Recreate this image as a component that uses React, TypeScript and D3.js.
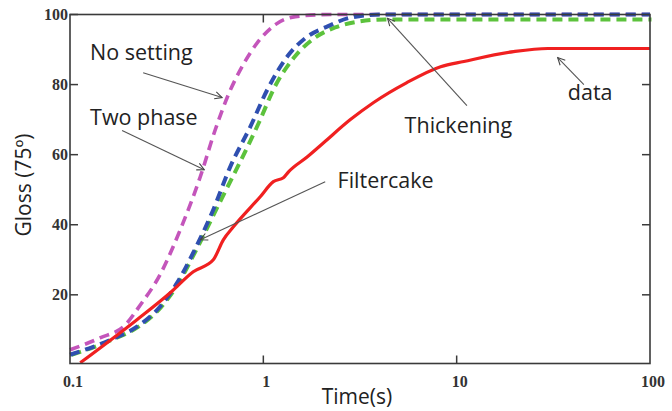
import React from "react";
import * as d3 from "d3";

// ---- data (time in s, gloss in GU) ----
const dataT = [0.113, 0.222, 0.33, 0.434, 0.551, 0.621, 0.7, 0.964, 1.127, 1.27, 1.35, 1.69, 2.05, 2.82, 3.72, 5.5, 8.26, 10.9, 19.7, 29.6, 100];
const dataV = [0.6, 12.9, 20.6, 26.6, 30, 35.7, 39.4, 48, 52.3, 53.4, 55.1, 59.4, 63.4, 70, 74.9, 80.5, 85.1, 86.6, 89.4, 90.3, 90.3];

const noSetT = [0.1, 0.143, 0.193, 0.231, 0.292, 0.372, 0.472, 0.564, 0.659, 0.787, 0.942, 1.153, 1.466, 2.22, 100];
const noSetV = [4.3, 7.7, 11.4, 17.1, 25.7, 38.6, 53.7, 67.1, 77.1, 85.7, 92.3, 97.1, 99.4, 100, 100];

const twoPhaseT = [0.1, 0.161, 0.222, 0.292, 0.358, 0.434, 0.551, 0.675, 0.857, 1.05, 1.33, 1.69, 2.15, 2.82, 4.04, 100];
const twoPhaseV = [2.9, 7.1, 10.9, 16.6, 23.4, 32, 44.3, 56.6, 68, 78.6, 88, 93.7, 96.6, 99.1, 100, 100];

const thickT = [0.1, 0.161, 0.222, 0.292, 0.358, 0.434, 0.56, 0.931, 1.127, 1.43, 1.82, 2.31, 3.07, 4.19, 100];
const thickV = [2.9, 7.1, 10.9, 16.6, 23.4, 32, 44.3, 69.1, 79.4, 88, 93.4, 96.3, 98, 98.6, 98.6];

const xTicks = [0.1, 1, 10, 100];
const xTickLabels = ["0.1", "1", "10", "100"];
const yTicks = [20, 40, 60, 80, 100];

// annotations: label, text anchor (t, v), arrow from (t, v) to (t, v)
const annLabels = ["No setting", "Two phase", "Filtercake", "Thickening", "data"];
const annText = [[0.127, 86.9], [0.127, 68.6], [2.42, 50.6], [5.38, 66.3], [37.6, 75.7]];
const annFrom = [[0.239, 83.4], [0.186, 66.9], [2.09, 52.3], [11.3, 74], [45.5, 80]];
const annTo = [[0.612, 76.3], [0.495, 55.7], [0.472, 35.7], [4.39, 98.9], [33.3, 87.7]];

export default function App() {
  const W = 672, H = 411;
  const x = d3.scaleLog().domain([0.1, 100]).range([70, 650]);
  const y = d3.scaleLinear().domain([0.4, 100]).range([363.5, 14.5]);
  const x0 = x(0.1), x1 = x(100), yTop = y(100), yBot = y(0.4);

  const line = d3
    .line<[number, number]>()
    .x((d) => x(d[0]))
    .y((d) => y(d[1]))
    .curve(d3.curveMonotoneX);
  const zip = (a: number[], b: number[]) => a.map((t, i) => [t, b[i]] as [number, number]);

  const axisColor = "#3a3a3a";
  const serif = "'Liberation Serif', 'DejaVu Serif', serif";
  const sans = "'Open Sans', Lato, sans-serif";
  const tickLen = 8;

  return (
    <svg width={W} height={H} style={{ position: "absolute", left: 0, top: 0, background: "#fff" }}>
      <defs>
        <marker id="arr" viewBox="0 0 10 10" refX="9" refY="5" markerWidth="9" markerHeight="9" orient="auto" markerUnits="userSpaceOnUse">
          <path d="M1,1 L9,5 L1,9" fill="none" stroke="#444" strokeWidth={1.2} />
        </marker>
      </defs>

      {/* series */}
      <path d={line(zip(noSetT, noSetV)) || ""} fill="none" stroke="#c455bb" strokeWidth={3.6} strokeDasharray="10 6" />
      <path d={line(zip(thickT, thickV)) || ""} fill="none" stroke="#5cc23c" strokeWidth={4} strokeDasharray="10 6" transform="translate(1.5,0)" />
      <path d={line(zip(twoPhaseT, twoPhaseV)) || ""} fill="none" stroke="#2f4fb0" strokeWidth={4} strokeDasharray="10 6" />
      <path d={line(zip(dataT, dataV)) || ""} fill="none" stroke="#f02020" strokeWidth={3.2} />

      {/* box */}
      <rect x={x0} y={yTop} width={x1 - x0} height={yBot - yTop} fill="none" stroke={axisColor} strokeWidth={1.6} />

      {/* y ticks */}
      {yTicks.map((v) => (
        <g key={"y" + v}>
          <line x1={x0} x2={x0 + tickLen} y1={y(v)} y2={y(v)} stroke={axisColor} strokeWidth={1.5} />
          {v < 100 && <line x1={x1} x2={x1 - tickLen} y1={y(v)} y2={y(v)} stroke={axisColor} strokeWidth={1.5} />}
          <text x={x0 - 2} y={y(v) + 5} textAnchor="end" fontFamily={serif} fontSize={16} fontWeight="bold" fill="#333">
            {v}
          </text>
        </g>
      ))}

      {/* x ticks */}
      {xTicks.map((t, i) => (
        <g key={"x" + t}>
          {i > 0 && i < xTicks.length - 1 && (
            <>
              <line x1={x(t)} x2={x(t)} y1={yBot} y2={yBot - tickLen} stroke={axisColor} strokeWidth={1.5} />
              {i === 1 && <line x1={x(t)} x2={x(t)} y1={yTop} y2={yTop + tickLen} stroke={axisColor} strokeWidth={1.5} />}
            </>
          )}
          <text x={x(t) + 3} y={yBot + 23} textAnchor="middle" fontFamily={serif} fontSize={16} fontWeight="bold" fill="#333">
            {xTickLabels[i]}
          </text>
        </g>
      ))}

      {/* axis titles */}
      <text x={357} y={404} textAnchor="middle" fontFamily={sans} fontSize={21} fill="#222">
        Time(s)
      </text>
      <text transform="translate(31,185) rotate(-90)" textAnchor="middle" fontFamily={sans} fontSize={21} fill="#222">
        Gloss (75º)
      </text>

      {/* annotations */}
      {annLabels.map((lab, i) => (
        <g key={lab}>
          <line
            x1={x(annFrom[i][0])}
            y1={y(annFrom[i][1])}
            x2={x(annTo[i][0])}
            y2={y(annTo[i][1])}
            stroke="#555"
            strokeWidth={1.1}
            markerEnd="url(#arr)"
          />
          <text x={x(annText[i][0])} y={y(annText[i][1])} fontFamily={sans} fontSize={21.5} fill="#222">
            {lab}
          </text>
        </g>
      ))}
    </svg>
  );
}
